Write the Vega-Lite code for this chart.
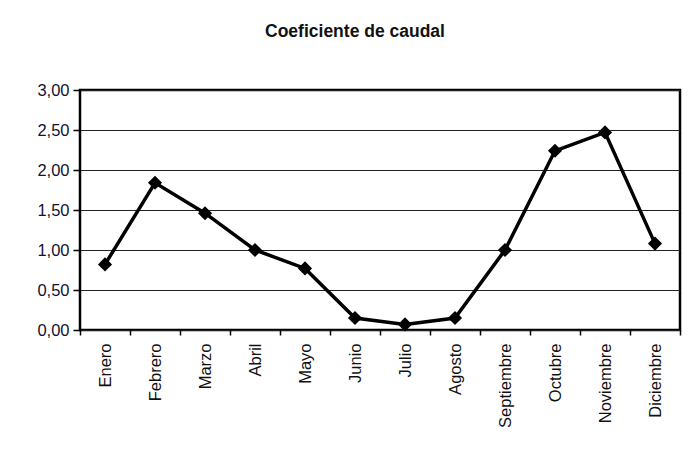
{
  "$schema": "https://vega.github.io/schema/vega-lite/v6.json",
  "width": 600,
  "height": 240,
  "autosize": "none",
  "padding": {"left": 80, "top": 90, "right": 17, "bottom": 120},
  "background": "white",
  "title": {
    "text": "Coeficiente de caudal",
    "font": "Liberation Sans",
    "fontSize": 17.5,
    "fontWeight": "bold",
    "color": "#111111",
    "anchor": "middle",
    "dx": -25,
    "offset": 42
  },
  "data": {
    "values": [
      {"mes": "Enero", "coef": 0.82},
      {"mes": "Febrero", "coef": 1.84},
      {"mes": "Marzo", "coef": 1.46},
      {"mes": "Abril", "coef": 1.0},
      {"mes": "Mayo", "coef": 0.77},
      {"mes": "Junio", "coef": 0.15},
      {"mes": "Julio", "coef": 0.07},
      {"mes": "Agosto", "coef": 0.15},
      {"mes": "Septiembre", "coef": 1.0},
      {"mes": "Octubre", "coef": 2.24},
      {"mes": "Noviembre", "coef": 2.47},
      {"mes": "Diciembre", "coef": 1.08}
    ]
  },
  "encoding": {
    "x": {
      "field": "mes",
      "type": "nominal",
      "sort": null,
      "scale": {"type": "band", "paddingInner": 0, "paddingOuter": 0},
      "axis": {
        "title": null,
        "labelAngle": -90,
        "labelFont": "Liberation Sans",
        "labelFontSize": 16.5,
        "labelColor": "#111111",
        "labelPadding": 8,
        "tickBand": "extent",
        "tickSize": 5,
        "tickColor": "#000000",
        "tickWidth": 1.5,
        "domain": false,
        "grid": false
      }
    },
    "y": {
      "field": "coef",
      "type": "quantitative",
      "scale": {"domain": [0, 3], "nice": false, "zero": true},
      "axis": {
        "title": null,
        "values": [0, 0.5, 1, 1.5, 2, 2.5, 3],
        "labelExpr": "replace(format(datum.value, '.2f'), '.', ',')",
        "labelFont": "Liberation Sans",
        "labelFontSize": 16.5,
        "labelColor": "#111133",
        "labelPadding": 4,
        "tickSize": 7,
        "tickColor": "#000000",
        "tickWidth": 1.5,
        "domain": false,
        "grid": true,
        "gridColor": "#222222",
        "gridWidth": 1.2,
        "gridOpacity": 1
      }
    }
  },
  "layer": [
    {"mark": {"type": "line", "color": "#000000", "strokeWidth": 3.5}},
    {"mark": {"type": "point", "shape": "diamond", "filled": true, "color": "#000000", "size": 200, "opacity": 1}}
  ],
  "config": {
    "view": {"stroke": "#000000", "strokeWidth": 2.5}
  }
}
